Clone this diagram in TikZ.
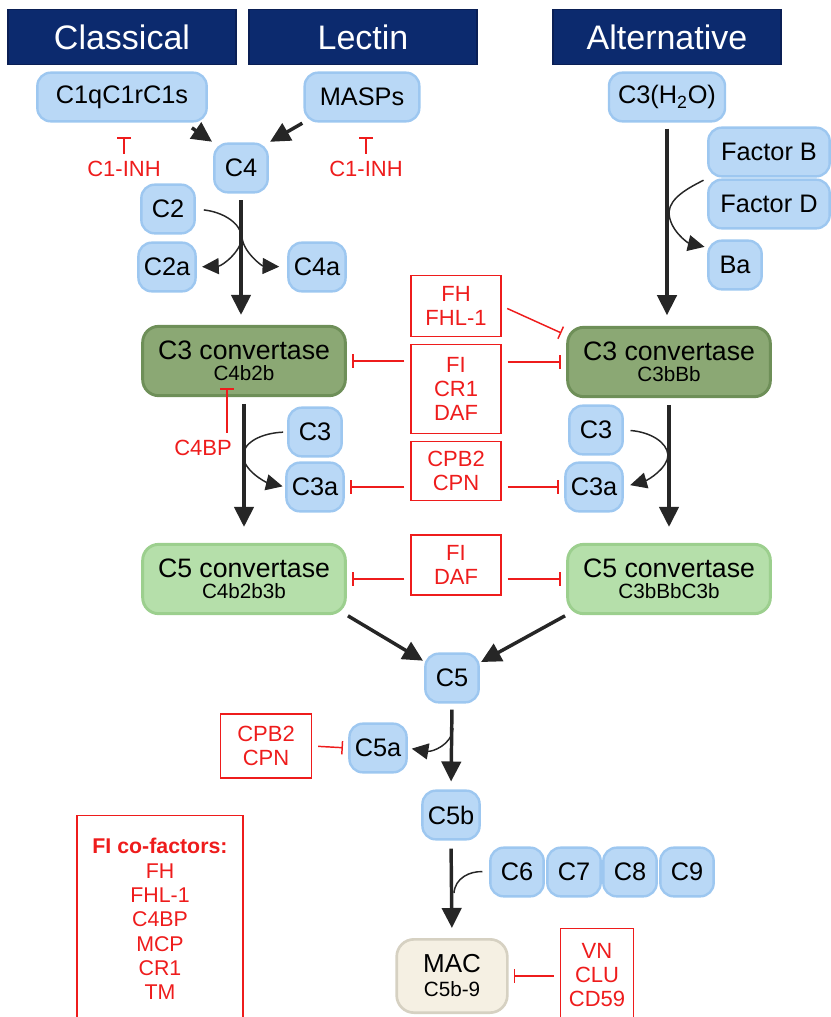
\documentclass[tikz,border=0pt]{standalone}
\usepackage{fontspec}
\setmainfont{Liberation Sans}
\usetikzlibrary{arrows.meta}
\definecolor{navy}{HTML}{0C2A6E}
\definecolor{navyline}{HTML}{0A1F55}
\definecolor{protfill}{HTML}{B9D8F6}
\definecolor{protline}{HTML}{9DC7F0}
\definecolor{darkgreen}{HTML}{8BA874}
\definecolor{darkgreenline}{HTML}{6E8F58}
\definecolor{lightgreen}{HTML}{B5DFAA}
\definecolor{lightgreenline}{HTML}{9CCF8E}
\definecolor{macfill}{HTML}{F5F0E3}
\definecolor{macline}{HTML}{D6D1C2}
\definecolor{inhred}{HTML}{EE1C1C}
\definecolor{arcgray}{HTML}{262626}

\begin{document}
\begin{tikzpicture}
	[x=0.75pt,y=-0.75pt,
	head/.style={shape=rectangle,draw=navyline,fill=navy,text=white,minimum width=171pt,
		minimum height=41pt,line width=1pt,font=\fontsize{25.5}{30}\selectfont},
	prot/.style={shape=rectangle,rounded corners=10pt,draw=protline,fill=protfill,line width=1.8pt,
		minimum width=40pt,minimum height=36.5pt,inner xsep=4pt,font=\fontsize{19}{22}\selectfont},
	conv/.style={shape=rectangle,rounded corners=12pt,line width=2.2pt,minimum width=152pt,
		minimum height=52pt,align=center,font=\fontsize{15.5}{16}\selectfont},
	convdark/.style={conv,fill=darkgreen,draw=darkgreenline},
	convlight/.style={conv,fill=lightgreen,draw=lightgreenline},
	macbox/.style={shape=rectangle,rounded corners=13pt,fill=macfill,draw=macline,line width=2pt,
		minimum width=83pt,minimum height=55pt,align=center,font=\fontsize{15.5}{18}\selectfont},
	inh/.style={shape=rectangle,draw=inhred,line width=1.1pt,text=inhred,align=center,
		minimum width=67.5pt,font=\fontsize{16.5}{18}\selectfont},
	lab/.style={text=inhred,inner sep=1pt,font=\fontsize{16.5}{18}\selectfont},
	arc/.style={-{Triangle[length=15pt,width=14.5pt]},line width=2.6pt,draw=arcgray,
		shorten <=5pt,shorten >=7pt},
	curv/.style={line width=1.1pt,draw=arcgray},
	side/.style={curv,-{Triangle[length=12.5pt,width=12pt]}},
	block/.style={-{Bar[width=10pt]},draw=inhred,line width=1.1pt,shorten <=4.5pt,shorten >=4pt}]
	\useasboundingbox (0,0) rectangle (831,1017);

	\node (hclass) [head] at (122,37) {Classical};
	\node (hlectin) [head] at (363,37) {Lectin};
	\node (halt) [head] at (667,37) {Alternative};

	\node (c1q) [prot,minimum width=127pt] at (122,97) {C1qC1rC1s};
	\node (masps) [prot,minimum width=86pt] at (362,97) {MASPs};
	\node (c3h2o) [prot,minimum width=87pt] at (667,97) {C3(H\textsubscript{2}O)};
	\node (c4) [prot] at (241,168) {C4};
	\node (c2) [prot] at (168,209) {C2};
	\node (c2a) [prot] at (167,267) {C2a};
	\node (c4a) [prot] at (317,267) {C4a};
	\node (facb) [prot,minimum width=91pt] at (769,152) {Factor B};
	\node (facd) [prot,minimum width=91pt] at (769,204) {Factor D};
	\node (ba) [prot] at (735,265) {Ba};

	\node (inhl) [lab] at (124,169) {C1-INH};
	\node (inhr) [lab] at (366,169) {C1-INH};

	\node (c3convl) [convdark] at (244,361) {{\fontsize{20}{16}\selectfont C3 convertase}\\C4b2b};
	\node (c3convr) [convdark] at (669,362) {{\fontsize{20}{16}\selectfont C3 convertase}\\C3bBb};
	\node (fhbox) [inh,minimum height=46pt] at (456,306) {FH\\FHL-1};
	\node (fibox) [inh,minimum height=67pt] at (456,389) {FI\\CR1\\DAF};
	\node (cpnbox) [inh,minimum height=44pt] at (456,471) {CPB2\\CPN};
	\node (fidafbox) [inh,minimum height=45pt] at (456,565) {FI\\DAF};

	\node (c3l) [prot] at (315,432) {C3};
	\node (c3al) [prot] at (315,487) {C3a};
	\node (c3r) [prot] at (596,430) {C3};
	\node (c3ar) [prot] at (594,487) {C3a};
	\node (c4bp) [lab] at (203,448) {C4BP};

	\node (c5convl) [convlight] at (244,579) {{\fontsize{20}{16}\selectfont C5 convertase}\\C4b2b3b};
	\node (c5convr) [convlight] at (669,579) {{\fontsize{20}{16}\selectfont C5 convertase}\\C3bBbC3b};

	\node (c5) [prot] at (452,678) {C5};
	\node (c5a) [prot] at (378,748) {C5a};
	\node (cpnbox2) [inh,minimum width=68pt,minimum height=48pt] at (266,746) {CPB2\\CPN};
	\node (c5b) [prot] at (451,815) {C5b};
	\node (c6) [prot] at (517,872) {C6};
	\node (c7) [prot] at (574,872) {C7};
	\node (c8) [prot] at (630,872) {C8};
	\node (c9) [prot] at (687,872) {C9};
	\node (mac) [macbox] at (452,976) {{\fontsize{19.5}{18}\selectfont MAC}\\C5b-9};
	\node (vnbox) [inh,minimum width=55pt,minimum height=70pt] at (597,975) {VN\\CLU\\CD59};
	\node (cofbox) [inh,minimum width=124.5pt,minimum height=155pt,font=\fontsize{16}{18.2}\selectfont]
		at (160,919) {\textbf{FI co-factors:}\\FH\\FHL-1\\C4BP\\MCP\\CR1\\TM};

	\draw [arc,shorten <=0pt,shorten >=1pt] ([xshift=-12pt,yshift=-4pt]c1q.south east) -- (c4.north west);
	\draw [arc,shorten <=1pt,shorten >=1pt] (masps.south west) -- (c4.north east);
	\draw [arc,shorten >=7.5pt] (c4.south) -- (c4.south |- c3convl.north);
	\draw [arc,shorten <=4.5pt,shorten >=8pt] (c3h2o.south) -- (c3h2o.south |- c3convr.north);
	\draw [arc,shorten >=12pt] (c3convl.south) -- (c3convl.south |- c5convl.north);
	\draw [arc,shorten >=12pt] (c3convr.south) -- (c3convr.south |- c5convr.north);
	\draw [arc,shorten <=1pt,shorten >=1pt] (c5convl.south east) -- (c5);
	\draw [arc,shorten <=1pt,shorten >=1pt] (c5convr.south west) -- (c5);
	\draw [arc,shorten <=4.5pt,shorten >=6pt] (c5.south) -- (c5b.north);
	\draw [arc,shorten <=6pt,shorten >=7.5pt] (c5b.south) -- (mac.north);

	\coordinate (c2cut) at (242,237);
	\draw [curv,shorten <=6pt] (c2.east) .. controls (222,212) and (240,222) .. (c2cut);
	\draw [side,shorten >=6pt] (c2cut) .. controls (243,252) and (262,266) .. (c4a.west);
	\draw [side,shorten >=4pt] (c2cut) .. controls (241,252) and (222,266) .. (c2a.east);

	\coordinate (fdcut) at (669,212);
	\draw [curv,shorten <=3pt] (facd.north west) .. controls (688,188) and (670,198) .. (fdcut);
	\draw [side,shorten >=2pt] (fdcut) .. controls (669,230) and (688,243) .. ([yshift=-6pt]ba.north west);

	\coordinate (c3lcut) at (243,455);
	\draw [curv,shorten <=3pt] (c3l.west) .. controls (262,433) and (244,442) .. (c3lcut);
	\draw [side,shorten >=2pt] (c3lcut) .. controls (243,470) and (265,482) .. (c3al.west);

	\coordinate (c3rcut) at (668,455);
	\draw [curv,shorten <=5pt] (c3r.east) .. controls (650,432) and (667,442) .. (c3rcut);
	\draw [side,shorten >=5pt] (c3rcut) .. controls (668,468) and (648,480) .. (c3ar.east);

	\coordinate (c5cut) at (453,728);
	\draw [side,shorten >=3pt] (c5cut) .. controls (452,745) and (432,752) .. (c5a.east);

	\coordinate (c6cut) at (454,893);
	\draw [curv,shorten <=5pt] (c6.west) .. controls (470,871) and (455,878) .. (c6cut);

	\draw [block,shorten >=11pt] (inhl.north) -- (inhl.north |- c1q.south);
	\draw [block,shorten >=11pt] (inhr.north) -- (inhr.north |- masps.south);
	\draw [block,shorten >=-6.5pt] ([xshift=18pt]c4bp.north) -- ([xshift=18pt]c4bp.north |- c3convl.south);
	\draw [block] (fhbox.east) -- ([yshift=-7pt]c3convr.north west);
	\draw [block] (fibox.west |- c3convl) -- (c3convl.east);
	\draw [block] (fibox.east |- c3convr) -- (c3convr.west);
	\draw [block] (cpnbox.west |- c3al) -- (c3al.east);
	\draw [block] (cpnbox.east |- c3ar) -- (c3ar.west);
	\draw [block] (fidafbox.west |- c5convl) -- (c5convl.east);
	\draw [block] (fidafbox.east |- c5convr) -- (c5convr.west);
	\draw [block] (cpnbox2.east) -- (c5a.west);
	\draw [block] (vnbox.west |- mac) -- (mac.east);
\end{tikzpicture}
\end{document}
